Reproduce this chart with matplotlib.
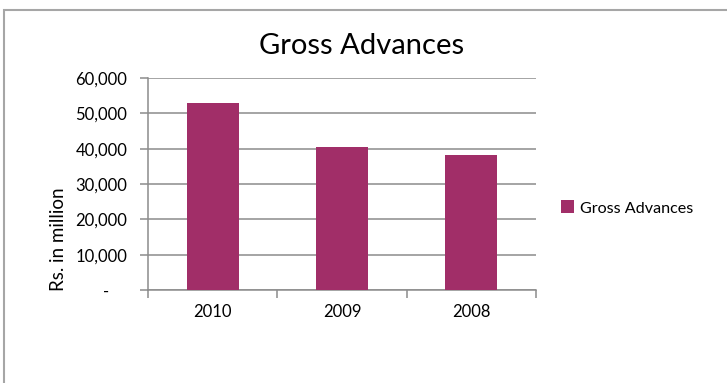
import matplotlib
matplotlib.use("Agg")
import matplotlib.pyplot as plt
from matplotlib.patches import Rectangle, Patch
from matplotlib.ticker import FuncFormatter
from matplotlib.transforms import ScaledTranslation

categories = ["2010", "2009", "2008"]
gross_advances = [52900, 40500, 38200]
series_name = "Gross Advances"
title = "Gross Advances"
y_label = "Rs. in million"
y_ticks = [0, 10000, 20000, 30000, 40000, 50000, 60000]

plt.rcParams['font.family'] = ['Lato', 'DejaVu Sans']

W, H = 727, 383
fig = plt.figure(figsize=(W / 100, H / 100), dpi=100)
fig.patch.set_facecolor('white')

# outer chart border
fig.add_artist(Rectangle((4 / W, -0.1), 2.0, 1 - 10 / H + 0.1, transform=fig.transFigure,
                         fill=False, edgecolor='#A6A6A6', linewidth=1.5))

left, right, top, bottom = 148, 536, 78, 290
ax = fig.add_axes([left / W, 1 - bottom / H, (right - left) / W, (bottom - top) / H])

bar_color = '#A12E68'
x = list(range(len(categories)))
ax.bar(x, gross_advances, width=0.40, color=bar_color, zorder=3)

ax.set_xlim(-0.5, len(categories) - 0.5)
ax.set_ylim(0, 60000)
ax.set_yticks(y_ticks)
ax.yaxis.set_major_formatter(FuncFormatter(lambda v, p: "-" if v == 0 else f"{int(v):,}"))
ax.grid(axis='y', color='#8C8C8C', linewidth=1.1, zorder=0)
ax.set_axisbelow(True)

ax.set_xticks(x)
ax.set_xticklabels(categories)
ax.set_xticks([i - 0.5 for i in range(len(categories) + 1)], minor=True)
ax.tick_params(axis='x', which='major', length=0, pad=10, labelsize=12, colors='black')
ax.tick_params(axis='x', which='minor', length=6, width=1.1, color='#8C8C8C', direction='out')
ax.tick_params(axis='y', which='major', length=6, width=1.1, color='#8C8C8C', pad=9,
               labelsize=12, direction='out')

for s in ['top', 'right']:
    ax.spines[s].set_visible(False)
for s in ['left', 'bottom']:
    ax.spines[s].set_color('#8C8C8C')
    ax.spines[s].set_linewidth(1.1)

fig.canvas.draw()
lbl0 = ax.get_yticklabels()[0]
lbl0.set_transform(lbl0.get_transform() + ScaledTranslation(-18 / 100, 0, fig.dpi_scale_trans))

fig.text(362 / W, 1 - 46 / H, title, ha='center', va='center', fontsize=21)
fig.text(59 / W, 1 - 239 / H, y_label, ha='center', va='center', rotation=90, fontsize=13.5)

fig.legend(handles=[Patch(facecolor=bar_color, label=series_name)],
           loc='center left', bbox_to_anchor=(546 / W, 1 - 208 / H), frameon=False,
           fontsize=11.6, handlelength=0.85, handleheight=0.85, handletextpad=0.35)

fig.savefig("out.png", dpi=100)
